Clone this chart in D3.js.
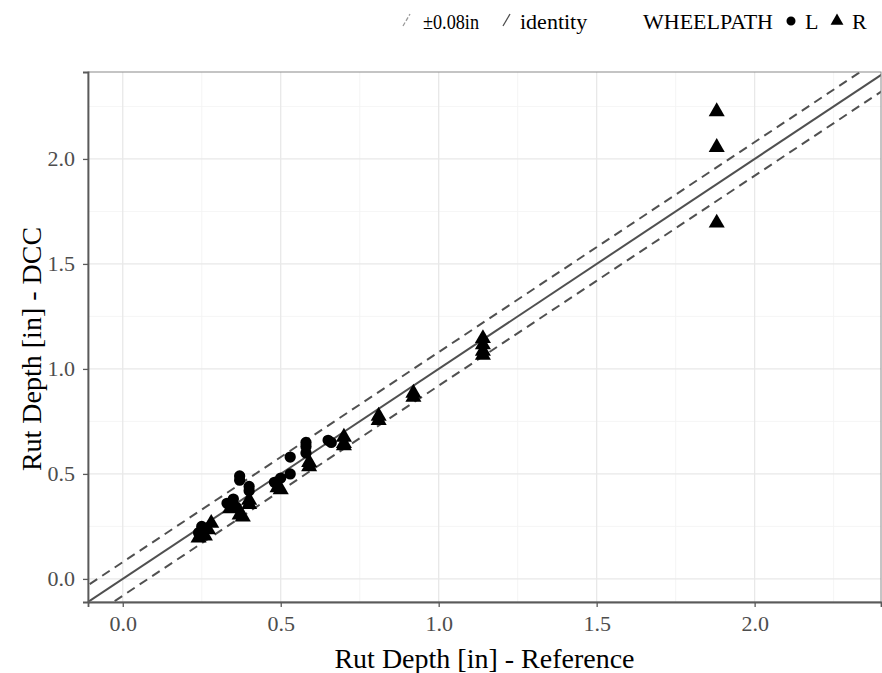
<!DOCTYPE html>
<html><head><meta charset="utf-8">
<script src="https://cdn.jsdelivr.net/npm/d3@7"></script>
<style>body{margin:0;background:#fff}</style>
</head><body>
<script>
const xTicks = [0.0, 0.5, 1.0, 1.5, 2.0];
const yTicks = [0.0, 0.5, 1.0, 1.5, 2.0];
const minorTicks = [0.25, 0.75, 1.25, 1.75, 2.25];
const band = 0.08;
// WHEELPATH L (circles)
const refL = [0.24,0.25,0.33,0.35,0.36,0.37,0.37,0.40,0.40,0.48,0.50,0.53,0.53,0.58,0.58,0.58,0.65,0.66];
const dccL = [0.22,0.25,0.36,0.38,0.34,0.49,0.47,0.44,0.42,0.46,0.48,0.58,0.50,0.65,0.63,0.60,0.66,0.65];
// WHEELPATH R (triangles)
const refR = [0.24,0.26,0.28,0.27,0.34,0.37,0.38,0.40,0.40,0.49,0.50,0.59,0.59,0.70,0.70,0.70,0.81,0.81,0.92,0.92,1.14,1.14,1.14,1.14,1.88,1.88,1.88];
const dccR = [0.20,0.21,0.27,0.24,0.34,0.31,0.30,0.38,0.36,0.44,0.43,0.56,0.54,0.68,0.65,0.64,0.78,0.76,0.89,0.87,1.15,1.12,1.09,1.07,2.23,2.06,1.70];

const W = 882, H = 673;
const L = 88, R = 881, T = 72, B = 602;
const font = "'Liberation Serif','Times New Roman',serif";
const svg = d3.select("body").append("svg").attr("width", W).attr("height", H)
  .style("font-family", font);

const x = d3.scaleLinear().domain([-0.11, 2.40]).range([L, R]);
const y = d3.scaleLinear().domain([-0.11, 2.414]).range([B, T]);

const clipId = "clip";
svg.append("clipPath").attr("id", clipId).append("rect")
  .attr("x", L).attr("y", T).attr("width", R - L).attr("height", B - T);

// grid
const g = svg.append("g");
g.selectAll(".mx").data(minorTicks).join("line")
  .attr("x1", d => x(d)).attr("x2", d => x(d)).attr("y1", T).attr("y2", B)
  .attr("stroke", "#f3f3f3").attr("stroke-width", 0.8);
g.selectAll(".my").data(minorTicks).join("line")
  .attr("y1", d => y(d)).attr("y2", d => y(d)).attr("x1", L).attr("x2", R)
  .attr("stroke", "#f3f3f3").attr("stroke-width", 0.8);
g.selectAll(".Mx").data(xTicks).join("line")
  .attr("x1", d => x(d)).attr("x2", d => x(d)).attr("y1", T).attr("y2", B)
  .attr("stroke", "#e8e8e8").attr("stroke-width", 1.3);
g.selectAll(".My").data(yTicks).join("line")
  .attr("y1", d => y(d)).attr("y2", d => y(d)).attr("x1", L).attr("x2", R)
  .attr("stroke", "#e8e8e8").attr("stroke-width", 1.3);

// reference lines
const lines = svg.append("g").attr("clip-path", `url(#${clipId})`);
const lx = [-0.5, 3];
[[0, null], [band, "9,6"], [-band, "9,6"]].forEach(([off, dash]) => {
  lines.append("line")
    .attr("x1", x(lx[0])).attr("y1", y(lx[0] + off))
    .attr("x2", x(lx[1])).attr("y2", y(lx[1] + off))
    .attr("stroke", "#505050").attr("stroke-width", 2)
    .attr("stroke-dasharray", dash);
});

// points
const pts = svg.append("g").attr("clip-path", `url(#${clipId})`);
const circ = d3.symbol().type(d3.symbolCircle).size(100);
const tri = d3.symbol().type(d3.symbolTriangle).size(112);
pts.selectAll(".l").data(refL.map((v, i) => [v, dccL[i]])).join("path")
  .attr("d", circ).attr("transform", d => `translate(${x(d[0])},${y(d[1])})`).attr("fill", "#000");
pts.selectAll(".r").data(refR.map((v, i) => [v, dccR[i]])).join("path")
  .attr("d", tri).attr("transform", d => `translate(${x(d[0])},${y(d[1]) + 1})`).attr("fill", "#000");

// border
svg.append("rect").attr("x", L).attr("y", T).attr("width", R - L).attr("height", B - T)
  .attr("fill", "none").attr("stroke", "#8a8a8a").attr("stroke-width", 1);

// axes
const xa = svg.append("g").attr("transform", `translate(0,${B})`)
  .call(d3.axisBottom(x).tickValues(xTicks).tickFormat(d3.format(".1f")).tickSizeOuter(0).tickSize(5).tickPadding(8));
const ya = svg.append("g").attr("transform", `translate(${L},0)`)
  .call(d3.axisLeft(y).tickValues(yTicks).tickFormat(d3.format(".1f")).tickSizeOuter(0).tickSize(5).tickPadding(8));
[xa, ya].forEach(a => {
  a.select(".domain").attr("stroke", "#5a5a5a").attr("stroke-width", 1.8);
  a.selectAll(".tick line").attr("stroke", "#5a5a5a").attr("stroke-width", 1.3);
  a.selectAll("text").attr("fill", "#4d4d4d").style("font-size", "22px").style("font-family", font);
});

// titles
svg.append("text").attr("x", (L + R) / 2).attr("y", 668).attr("text-anchor", "middle")
  .style("font-size", "28px").attr("fill", "#000").text("Rut Depth [in] - Reference");
svg.append("text").attr("transform", `translate(41,349) rotate(-90)`).attr("text-anchor", "middle")
  .style("font-size", "28px").attr("fill", "#000").text("Rut Depth [in] - DCC");

// legend
const lg = svg.append("g").style("font-size", "22px");
const ly = 29;
lg.append("line").attr("x1", 403).attr("y1", ly - 3).attr("x2", 410).attr("y2", ly - 15)
  .attr("stroke", "#999").attr("stroke-width", 1.3).attr("stroke-dasharray", "4,2");
lg.append("text").attr("x", 423).attr("y", ly).attr("textLength", 56).attr("lengthAdjust", "spacingAndGlyphs").text("±0.08in");
lg.append("line").attr("x1", 503).attr("y1", ly - 3).attr("x2", 510).attr("y2", ly - 15)
  .attr("stroke", "#4d4d4d").attr("stroke-width", 1.3);
lg.append("text").attr("x", 520).attr("y", ly).text("identity");
lg.append("text").attr("x", 643).attr("y", ly).text("WHEELPATH");
lg.append("path").attr("d", circ).attr("transform", `translate(791,${ly - 8}) scale(0.8)`);
lg.append("text").attr("x", 805).attr("y", ly).text("L");
lg.append("path").attr("d", tri).attr("transform", `translate(837,${ly - 8}) scale(0.8)`);
lg.append("text").attr("x", 852).attr("y", ly).text("R");
</script>
</body></html>
